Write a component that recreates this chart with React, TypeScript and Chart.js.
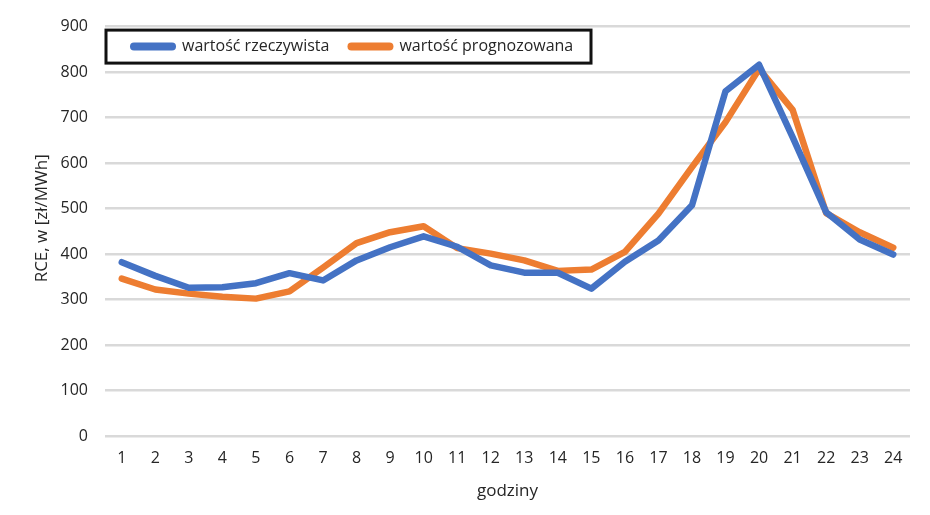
import React, { useEffect, useRef } from "react";
import { Chart, registerables } from "chart.js";

Chart.register(...registerables);

const hours = ["1","2","3","4","5","6","7","8","9","10","11","12","13","14","15","16","17","18","19","20","21","22","23","24"];
const actualValues = [382, 352, 326, 327, 336, 358, 342, 386, 415, 439, 416, 375, 359, 359, 324, 383, 430, 507, 758, 816, 657, 492, 432, 399];
const forecastValues = [346, 322, 313, 306, 302, 318, 370, 424, 448, 461, 413, 401, 386, 363, 366, 405, 489, 591, 690, 807, 717, 490, 448, 414];
const seriesLabels = ["wartość rzeczywista", "wartość prognozowana"];
const seriesColors = ["#4472C4", "#ED7D31"];
const yAxisTitle = "RCE, w [zł/MWh]";
const xAxisTitle = "godziny";

const FONT = "'Open Sans', Lato, sans-serif";
const TEXT_COLOR = "#262626";

// Framed legend drawn inside the plot area, top-left
const boxedLegend = {
  id: "boxedLegend",
  afterDraw(chart: any) {
    const { ctx, chartArea } = chart;
    const x0 = chartArea.left + 1;
    const y0 = chartArea.top + 3.5;
    const w = 485;
    const h = 33;
    ctx.save();
    ctx.fillStyle = "#ffffff";
    ctx.fillRect(x0, y0, w, h);
    ctx.lineWidth = 3;
    ctx.strokeStyle = "#111111";
    ctx.strokeRect(x0, y0, w, h);
    ctx.font = `16px ${FONT}`;
    ctx.textBaseline = "middle";
    ctx.textAlign = "left";
    const cy = y0 + h / 2;
    let x = x0 + 28;
    chart.data.datasets.forEach((ds: any) => {
      ctx.beginPath();
      ctx.lineCap = "round";
      ctx.lineWidth = 8;
      ctx.strokeStyle = ds.borderColor;
      ctx.moveTo(x, cy);
      ctx.lineTo(x + 38, cy);
      ctx.stroke();
      ctx.fillStyle = TEXT_COLOR;
      ctx.fillText(ds.label, x + 48, cy);
      x += 48 + ctx.measureText(ds.label).width + 22;
    });
    ctx.restore();
  },
};

// Rotated value-axis title, set slightly above the plot's vertical middle
const valueAxisTitle = {
  id: "valueAxisTitle",
  afterDraw(chart: any) {
    const { ctx, chartArea } = chart;
    ctx.save();
    ctx.translate(42, (chartArea.top + chartArea.bottom) / 2 - 13);
    ctx.rotate(-Math.PI / 2);
    ctx.font = `17px ${FONT}`;
    ctx.fillStyle = TEXT_COLOR;
    ctx.textAlign = "center";
    ctx.textBaseline = "middle";
    ctx.fillText(yAxisTitle, 0, 0);
    ctx.restore();
  },
};

export default function App() {
  const canvasRef = useRef<HTMLCanvasElement | null>(null);

  useEffect(() => {
    document.body.style.margin = "0";
    const canvas = canvasRef.current;
    if (!canvas) return;
    const chart = new Chart(canvas, {
      type: "line",
      data: {
        labels: hours,
        datasets: [
          {
            label: seriesLabels[0],
            data: actualValues,
            borderColor: seriesColors[0],
            backgroundColor: seriesColors[0],
            borderWidth: 6.5,
            pointRadius: 0,
            tension: 0,
            borderJoinStyle: "round",
            borderCapStyle: "round",
          },
          {
            label: seriesLabels[1],
            data: forecastValues,
            borderColor: seriesColors[1],
            backgroundColor: seriesColors[1],
            borderWidth: 6.5,
            pointRadius: 0,
            tension: 0,
            borderJoinStyle: "round",
            borderCapStyle: "round",
          },
        ],
      },
      options: {
        responsive: false,
        animation: false,
        layout: { padding: { top: 26, right: 20, left: 0, bottom: 0 } },
        plugins: {
          legend: { display: false },
          tooltip: { enabled: false },
        },
        scales: {
          x: {
            offset: true,
            grid: { display: false, drawTicks: false },
            border: { display: false },
            ticks: {
              padding: 13,
              color: TEXT_COLOR,
              font: { family: FONT, size: 16 },
              maxRotation: 0,
              autoSkip: false,
            },
            title: {
              display: true,
              text: xAxisTitle,
              color: TEXT_COLOR,
              font: { family: FONT, size: 17 },
              padding: { top: 0, bottom: 14 },
            },
            afterFit(scale: any) {
              scale.height = 79;
            },
          },
          y: {
            min: 0,
            max: 900,
            grid: { color: "#d9d9d9", lineWidth: 2.5, drawTicks: false },
            border: { display: false },
            ticks: {
              stepSize: 100,
              padding: 17,
              color: TEXT_COLOR,
              font: { family: FONT, size: 16 },
            },
            afterFit(scale: any) {
              scale.width = 105;
            },
          },
        },
      },
      plugins: [boxedLegend, valueAxisTitle],
    });
    return () => chart.destroy();
  }, []);

  return (
    <div style={{ position: "absolute", left: 0, top: 0, width: 930, height: 515, background: "#fff" }}>
      <canvas ref={canvasRef} width={930} height={515} />
    </div>
  );
}
